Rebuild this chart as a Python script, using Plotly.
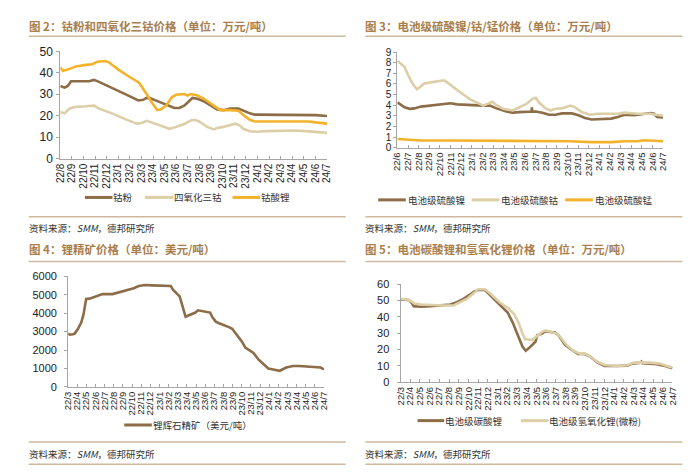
import plotly.graph_objects as go

W, H = 700, 473

# ---------------- data ----------------
# Panel 1 (图2): month index 0 = 22/8
p1_ticks = ["22/8", "22/9", "22/10", "22/11", "22/12", "23/1", "23/2", "23/3", "23/4", "23/5",
            "23/6", "23/7", "23/8", "23/9", "23/10", "23/11", "23/12", "24/1", "24/2", "24/3",
            "24/4", "24/5", "24/6", "24/7"]
cobalt_powder_x = [0, 0.37, 0.65, 0.93, 2.49, 2.91, 3.34, 4.47, 5.60, 6.73, 7.16, 7.44, 7.72, 8.43, 9.28,
                   9.84, 10.27, 10.69, 11.03, 11.40, 11.82, 12.39, 12.96, 13.52, 14.09, 14.65, 15.36,
                   15.78, 16.35, 16.77, 19.18, 20.59, 22.01, 23.00]
cobalt_powder_y = [33.9, 33.1, 33.9, 36.1, 36.1, 36.7, 35.8, 33.1, 30.1, 27.1, 27.4, 28.3, 28.2, 26.7, 24.8,
                   23.6, 23.6, 24.7, 26.4, 28.3, 27.9, 26.7, 24.8, 22.9, 22.6, 23.3, 23.3,
                   22.3, 21.1, 20.5, 20.5, 20.6, 20.3, 19.9]
co3o4_x = [0, 0.37, 0.79, 1.22, 2.21, 2.91, 3.34, 4.47, 5.60, 6.59, 7.02, 7.44, 7.86, 8.71, 9.42, 9.99,
           10.69, 11.26, 11.60, 11.97, 12.67, 13.24, 13.52, 14.09, 14.65, 15.08, 15.50, 15.78, 16.35,
           16.92, 17.77, 19.18, 20.31, 21.44, 23.00]
co3o4_y = [21.8, 21.1, 23.3, 24.1, 24.4, 24.7, 23.3, 21.1, 18.4, 16.3, 16.6, 17.6, 16.9, 15.4, 13.9, 14.8,
           16.1, 17.8, 18.1, 17.3, 14.8, 13.6, 14.3, 14.8, 15.8, 16.3, 15.4, 13.9, 12.8,
           12.5, 12.8, 13.0, 13.1, 12.7, 12.0]
lco_x = [0, 0.23, 0.65, 1.36, 2.21, 2.77, 3.20, 3.90, 4.19, 5.04, 5.88, 6.79, 7.44, 7.86, 8.37, 8.71,
         9.14, 9.62, 9.99, 10.69, 10.98, 11.26, 11.54, 11.82, 12.39, 12.96, 13.52, 13.80, 14.65, 15.36,
         15.78, 16.35, 16.77, 17.77, 19.18, 20.31, 21.44, 22.01, 23.00]
lco_y = [42.5, 41.0, 41.5, 43.0, 43.7, 44.0, 45.2, 45.5, 44.9, 41.4, 38.4, 35.4, 30.1, 26.4, 22.6, 23.0,
         24.8, 28.6, 29.8, 30.1, 29.4, 30.1, 29.8, 29.4, 27.9, 25.6, 23.3, 22.6, 22.6, 22.3,
         20.3, 18.1, 17.3, 17.3, 17.5, 17.6, 17.3, 16.9, 16.3]

# Panel 2 (图3): month index 0 = 22/6
p2_ticks = ["22/6", "22/7", "22/8", "22/9", "22/10", "22/11", "22/12", "23/1", "23/2", "23/3", "23/4",
            "23/5", "23/6", "23/7", "23/8", "23/9", "23/10", "23/11", "23/12", "24/1", "24/2", "24/3",
            "24/4", "24/5", "24/6", "24/7"]
niso4_x = [0, 0.22, 0.68, 1.14, 1.60, 2.22, 3.15, 4.07, 5.00, 5.62, 6.85, 8.09, 8.70, 9.32, 10.25, 10.86,
           11.48, 12.25, 12.62, 12.65, 12.69, 13.02, 13.64, 14.26, 14.88, 15.49, 16.42, 17.04, 17.65,
           18.27, 19.20, 20.12, 20.74, 21.36, 22.28, 23.21, 23.83, 24.14, 24.44, 25.00]
niso4_y = [4.27, 4.10, 3.80, 3.66, 3.70, 3.87, 3.96, 4.08, 4.18, 4.08, 4.00, 3.96, 3.96, 3.70, 3.40, 3.30,
           3.35, 3.35, 3.40, 3.80, 3.40, 3.40, 3.30, 3.10, 3.10, 3.23, 3.23, 3.05, 2.80,
           2.65, 2.68, 2.74, 2.90, 3.10, 3.05, 3.17, 3.26, 3.20, 2.90, 2.84]
coso4_x = [0, 0.37, 0.68, 0.99, 1.30, 1.60, 1.85, 2.22, 2.53, 3.15, 4.07, 4.38, 4.69, 5.31, 5.93, 6.85,
           7.47, 8.09, 8.40, 8.95, 9.32, 9.94, 10.86, 11.48, 12.10, 12.72, 13.02, 13.33, 13.95, 14.41,
           14.88, 15.49, 16.27, 16.73, 17.35, 18.12, 18.89, 20.74, 21.36, 22.59, 23.83, 24.29, 25.00]
coso4_y = [8.20, 7.90, 7.60, 6.90, 6.25, 5.80, 5.50, 5.80, 6.05, 6.15, 6.25, 6.35, 6.15, 5.65, 5.20, 4.55,
           4.25, 3.96, 4.10, 4.33, 4.00, 3.66, 3.50, 3.80, 4.10, 4.60, 4.70, 4.25, 3.70, 3.50,
           3.66, 3.70, 3.96, 3.80, 3.35, 3.10, 3.20, 3.20, 3.30, 3.20, 3.20, 3.10, 3.00]
mnso4_x = [0, 0.99, 2.22, 5.31, 9.94, 13.02, 16.11, 18.27, 20.12, 21.36, 22.59, 23.21, 24.14, 25.00]
mnso4_y = [0.82, 0.76, 0.67, 0.67, 0.67, 0.61, 0.61, 0.52, 0.52, 0.61, 0.61, 0.70, 0.67, 0.61]

# Panel 3 (图4): month index 0 = 22/3
p3_ticks = ["22/3", "22/4", "22/5", "22/6", "22/7", "22/8", "22/9", "22/10", "22/11", "22/12", "23/1",
            "23/2", "23/3", "23/4", "23/5", "23/6", "23/7", "23/8", "23/9", "23/10", "23/11", "23/12",
            "24/1", "24/2", "24/3", "24/4", "24/5", "24/6", "24/7"]
spodumene_x = [0, 0.18, 0.54, 0.72, 1.08, 1.44, 1.69, 1.87, 1.97, 2.33, 2.87, 3.41, 3.77, 4.85, 5.56,
               6.10, 6.64, 7.18, 7.72, 8.44, 9.15, 10.23, 11.23, 11.49, 11.85, 12.20, 12.56, 12.85,
               13.10, 13.64, 13.93, 14.18, 14.72, 15.25, 15.54, 15.79, 16.15, 16.51, 17.05, 17.59,
               17.95, 18.49, 19.02, 19.38, 19.74, 20.28, 20.82, 21.36, 21.90, 22.43, 23.15, 23.87,
               24.59, 25.31, 26.02, 26.74, 27.28, 27.64, 28.00]
spodumene_y = [2895, 2842, 2860, 2895, 3158, 3509, 3947, 4386, 4772, 4789, 4877, 5000, 5035, 5035, 5123,
               5211, 5263, 5351, 5474, 5526, 5509, 5491, 5474, 5263, 5088, 4912, 4298, 3807,
               3860, 3947, 4035, 4158, 4105, 4070, 4035, 3772, 3544, 3456, 3368, 3246,
               3158, 2807, 2456, 2140, 2018, 1842, 1491, 1228, 1000, 947, 877, 1053,
               1140, 1140, 1105, 1088, 1053, 1053, 947]

# Panel 4 (图5): month index 0 = 22/3
p4_ticks = p3_ticks
li2co3_x = [0, 0.57, 0.91, 1.15, 1.35, 2.09, 3.10, 4.45, 5.13, 5.80, 6.48, 7.15, 7.56, 8.00, 8.67, 9.01,
            9.85, 10.53, 11.03, 11.54, 12.04, 12.55, 12.89, 13.23, 13.73, 13.90, 14.07, 14.57, 14.91,
            15.59, 15.92, 16.26, 16.94, 17.61, 18.29, 18.96, 19.47, 20.31, 20.99, 22.33, 23.35, 23.85,
            24.36, 24.70, 24.80, 24.90, 25.71, 26.38, 27.23, 27.73, 28.00]
li2co3_y = [50.5, 50.5, 49.9, 48.5, 46.5, 46.1, 46.5, 47.1, 47.5, 48.9, 50.9, 53.5, 55.4, 56.4, 56.4, 54.5,
            49.5, 45.5, 42.6, 36.6, 28.7, 21.8, 19.2, 20.8, 23.8, 24.8, 28.7, 29.7, 31.1,
            30.7, 30.3, 28.7, 22.8, 19.8, 17.2, 17.2, 15.8, 11.9, 9.9, 9.9, 10.1, 11.3,
            11.5, 11.9, 12.5, 11.5, 11.3, 10.9, 9.9, 8.9, 8.5]
lioh_x = [0, 0.74, 1.08, 1.42, 2.09, 3.10, 4.62, 5.47, 6.14, 6.82, 7.56, 8.00, 8.67, 9.18, 10.19, 11.03,
          11.71, 12.21, 12.55, 12.82, 13.56, 14.07, 14.57, 14.91, 15.59, 16.09, 16.43, 17.10, 17.78,
          18.45, 18.96, 19.64, 20.31, 20.99, 22.33, 23.35, 24.02, 24.70, 25.71, 26.72, 27.40, 28.00]
lioh_y = [50.9, 50.5, 49.5, 48.1, 47.5, 47.1, 46.9, 46.9, 48.9, 50.9, 54.5, 56.8, 56.8, 54.5, 48.9, 45.5,
          41.6, 35.6, 29.7, 26.3, 25.7, 28.3, 30.7, 31.7, 30.7, 29.7, 27.7, 22.8, 19.2,
          17.4, 17.6, 15.2, 12.3, 10.5, 9.9, 10.3, 11.9, 12.1, 11.9, 11.3, 9.9, 8.9]

# ---------------- styling ----------------
BROWN = "#8c6d48"
BEIGE = "#dccfa8"
GOLD = "#f3b229"
TITLE_C = "#a97e4d"
RULE_C = "#cdb89e"
AXIS_C = "#a6a6a6"
TXT_C = "#333333"
NUM_FONT = "Liberation Sans, Arial, sans-serif"
CJK_FONT = "Noto Sans CJK SC, sans-serif"


def fx(px):
    return px / W


def fy(py):
    return 1 - py / H


fig = go.Figure()


def add_line(x, y, color, xa, ya, width=2.6):
    fig.add_trace(go.Scatter(x=x, y=y, mode="lines", line=dict(color=color, width=width),
                             xaxis=xa, yaxis=ya, showlegend=False, hoverinfo="skip"))


add_line(cobalt_powder_x, cobalt_powder_y, BROWN, "x", "y")
add_line(co3o4_x, co3o4_y, BEIGE, "x", "y")
add_line(lco_x, lco_y, GOLD, "x", "y")

add_line(niso4_x, niso4_y, BROWN, "x2", "y2")
add_line(coso4_x, coso4_y, BEIGE, "x2", "y2")
add_line(mnso4_x, mnso4_y, GOLD, "x2", "y2")

add_line(spodumene_x, spodumene_y, BROWN, "x3", "y3")

add_line(li2co3_x, li2co3_y, BROWN, "x4", "y4")
add_line(lioh_x, lioh_y, BEIGE, "x4", "y4")


def xax(dom, rng, ticks, anchor, size):
    return dict(domain=[fx(dom[0]), fx(dom[1])], range=rng, anchor=anchor,
                tickmode="array", tickvals=list(range(len(ticks))), ticktext=ticks,
                tickangle=-90, showline=True, linecolor=AXIS_C, linewidth=1,
                ticks="inside", ticklen=3, tickcolor=AXIS_C, showgrid=False, zeroline=False,
                tickfont=dict(family=NUM_FONT, size=size, color="#222222"), fixedrange=True)


def yax(dom, rng, dtick, anchor, size, standoff):
    return dict(domain=[fy(dom[0]), fy(dom[1])], range=rng, anchor=anchor, dtick=dtick,
                tick0=0, showline=True, linecolor=AXIS_C, linewidth=1,
                ticks="outside", ticklen=3, tickcolor=AXIS_C, showgrid=False, zeroline=False,
                ticklabelstandoff=standoff,
                tickfont=dict(family=NUM_FONT, size=size, color="#222222"), fixedrange=True)


fig.update_layout(
    width=W, height=H, margin=dict(l=0, r=0, t=0, b=0),
    paper_bgcolor="white", plot_bgcolor="white",
    xaxis=xax((47, 318), [0, 23], p1_ticks, "y", 10),
    yaxis=yax((148, 37.5), [0, 50], 10, "x", 12, 1),
    xaxis2=xax((389.5, 659.5), [0, 25], p2_ticks, "y2", 9.5),
    yaxis2=yax((136.7, 38.3), [0, 9], 1, "x2", 10, 0),
    xaxis3=xax((55, 315), [0, 28], p3_ticks, "y3", 9.5),
    yaxis3=yax((383.3, 269.3), [0, 6000], 1000, "x3", 11, 5),
    xaxis4=xax((392.7, 669), [0, 28], p4_ticks, "y4", 9.5),
    yaxis4=yax((378.3, 277.3), [0, 60], 10, "x4", 11, 5),
)

shapes = []
annotations = []


def rule(x0, x1, y):
    shapes.append(dict(type="line", xref="paper", yref="paper", x0=fx(x0), x1=fx(x1),
                       y0=fy(y), y1=fy(y), line=dict(color=RULE_C, width=1.5)))


def text(x, y, s, size, color=TXT_C, bold=False, font=CJK_FONT):
    annotations.append(dict(xref="paper", yref="paper", x=fx(x), y=fy(y), text=s, showarrow=False,
                            xanchor="left", yanchor="middle",
                            font=dict(family=font, size=size, color=color,
                                      weight="bold" if bold else "normal")))


def legend_key(x0, x1, y, color):
    shapes.append(dict(type="line", xref="paper", yref="paper", x0=fx(x0), x1=fx(x1),
                       y0=fy(y), y1=fy(y), line=dict(color=color, width=3)))


# titles
text(13, 11, "图 2：钴粉和四氧化三钴价格（单位：万元/吨）", 11.5, TITLE_C, True)
text(355, 11, "图 3：电池级硫酸镍/钴/锰价格（单位：万元/吨）", 11.5, TITLE_C, True)
text(13, 241, "图 4：锂精矿价格（单位：美元/吨）", 11.5, TITLE_C, True)
text(355, 241, "图 5：电池碳酸锂和氢氧化锂价格（单位：万元/吨）", 11.5, TITLE_C, True)

# rules
for (a, b) in [(15, 337), (357, 679)]:
    rule(a, b, 22)
    rule(a, b, 208)
    rule(a, b, 254)
    rule(a, b, 440)
    rule(a, b, 463)

# sources
src = "资料来源：<i>SMM</i>，德邦研究所"
text(13, 220, src, 9.5)
text(355, 220, src, 9.5)
text(13, 452, src, 9.5)
text(355, 452, src, 9.5)

# legends
legend_key(72, 100, 188, BROWN)
text(99, 188, "钴粉", 9.5)
legend_key(133, 162, 188, BEIGE)
text(161, 188, "四氧化三钴", 9.5)
legend_key(222, 250, 188, GOLD)
text(249, 188, "钴酸锂", 9.5)

legend_key(370, 398, 190.5, BROWN)
text(398, 190.5, "电池级硫酸镍", 9.5)
legend_key(465, 493, 190.5, BEIGE)
text(493, 190.5, "电池级硫酸钴", 9.5)
legend_key(560, 588, 190.5, GOLD)
text(588, 190.5, "电池级硫酸锰", 9.5)

legend_key(112, 140, 422.5, BROWN)
text(139, 422.5, "锂辉石精矿（美元/吨）", 9.5)

legend_key(410, 437, 418, BROWN)
text(436, 418, "电池级碳酸锂", 9.5)
legend_key(515, 543, 418, BEIGE)
text(542, 418, "电池级氢氧化锂(微粉)", 9.5)

fig.update_layout(shapes=shapes, annotations=annotations)

fig.write_html("out.html")
